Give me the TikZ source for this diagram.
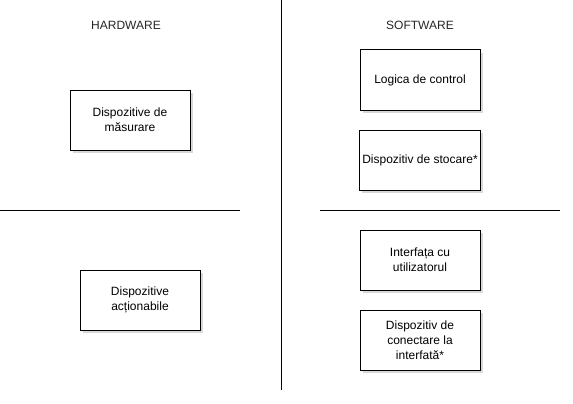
\documentclass[tikz,border=0pt]{standalone}
\usepackage{fontspec}
\setmainfont{Liberation Sans}
\usetikzlibrary{shadows}

\tikzset{
  bloc/.style={draw=black,fill=white,line width=0.75pt,minimum width=90pt,minimum height=45pt,
    align=center,font=\fontsize{9}{11.25}\selectfont,inner sep=2pt,
    drop shadow={shadow xshift=2pt,shadow yshift=-2pt,fill=black!30,opacity=0.5}},
  titlu/.style={font=\fontsize{9}{11.25}\selectfont,text=black!85},
}

\begin{document}
\begin{tikzpicture}[x=0.75pt,y=-0.75pt]
  \useasboundingbox (0,0) rectangle (573,403);
  % separatoare
  \draw[line width=0.75pt] (281,0) -- (281,390);
  \draw[line width=0.75pt] (0,210) -- (240,210);
  \draw[line width=0.75pt] (320,210) -- (560,210);
  % titluri
  \node[titlu] (hw) at (126,25) {HARDWARE};
  \node[titlu] (sw) at (420,25) {SOFTWARE};
  % blocuri hardware
  \node[bloc] (masurare) at (130,120) {Dispozitive de\\măsurare};
  \node[bloc] (actionabile) at (140,300) {Dispozitive\\acționabile};
  % blocuri software
  \node[bloc] (logica) at (420,80) {Logica de control};
  \node[bloc] (stocare) at (420,160) {Dispozitiv de stocare*};
  \node[bloc] (interfata) at (420,260) {Interfața cu\\utilizatorul};
  \node[bloc] (conectare) at (420,340) {Dispozitiv de\\conectare la\\interfată*};
\end{tikzpicture}
\end{document}
